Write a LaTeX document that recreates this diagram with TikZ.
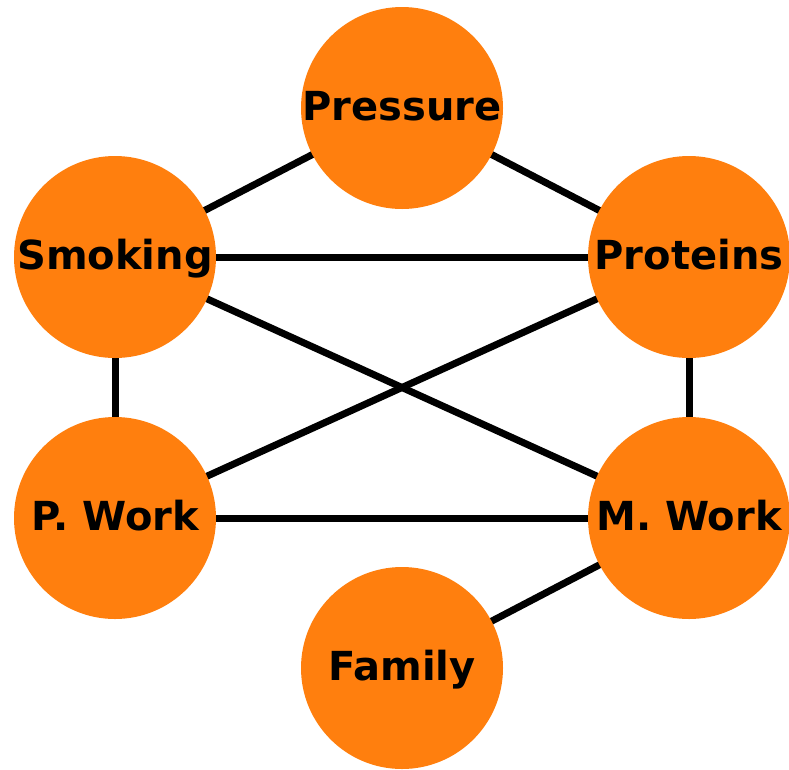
\documentclass[tikz,border=0pt]{standalone}
\usepackage{fontspec}
\setmainfont{DejaVu Sans}
\definecolor{nodeorange}{HTML}{FF7F0E}
\begin{document}
\begin{tikzpicture}[x=1pt,y=-1pt,
  vertex/.style={circle,fill=nodeorange,draw=none,minimum size=202pt,inner sep=0pt,
    text height=29pt,text depth=5pt,
    font=\fontsize{40}{44}\selectfont\bfseries},
  link/.style={line width=7pt,black}]
\useasboundingbox (0,0) rectangle (789,769);
% edges drawn first so the filled circles cover their ends
\coordinate (cPressure) at (402,108);
\coordinate (cSmoking)  at (115,257);
\coordinate (cProteins) at (689,257);
\coordinate (cPWork)    at (115,518);
\coordinate (cMWork)    at (689,518);
\coordinate (cFamily)   at (402,668);
\draw[link] (cPressure) -- (cSmoking);
\draw[link] (cPressure) -- (cProteins);
\draw[link] (cSmoking) -- (cProteins);
\draw[link] (cSmoking) -- (cPWork);
\draw[link] (cSmoking) -- (cMWork);
\draw[link] (cProteins) -- (cPWork);
\draw[link] (cProteins) -- (cMWork);
\draw[link] (cPWork) -- (cMWork);
\draw[link] (cMWork) -- (cFamily);
% nodes
\node[vertex] (pressure) at (cPressure) {Pressure};
\node[vertex] (smoking)  at (cSmoking)  {Smoking};
\node[vertex] (proteins) at (cProteins) {Proteins};
\node[vertex] (pwork)    at (cPWork)    {P. Work};
\node[vertex] (mwork)    at (cMWork)    {M. Work};
\node[vertex] (family)   at (cFamily)   {Family};
\end{tikzpicture}
\end{document}
